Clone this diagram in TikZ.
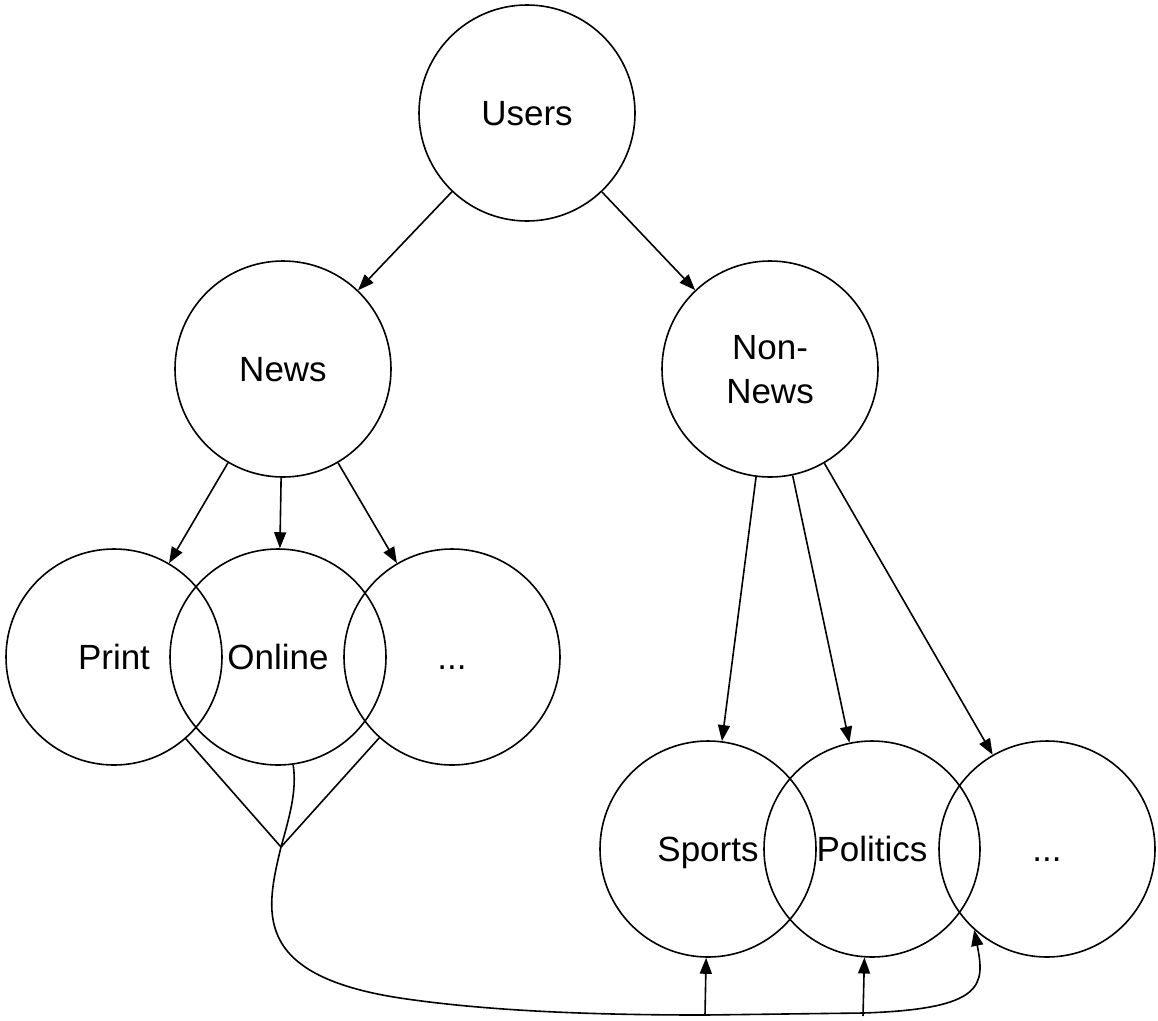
\documentclass[tikz,border=0pt]{standalone}
\usepackage{fontspec}
\setmainfont{Liberation Sans}
\usetikzlibrary{arrows.meta}
\newcommand{\stv}{\vphantom{A}}
\begin{document}
\begin{tikzpicture}[x=1pt,y=-1pt,
  circ/.style={draw,circle,line width=1.6pt,minimum size=216pt,inner sep=0pt,
    font=\fontsize{35}{44}\selectfont,align=center},
  conn/.style={line width=1.6pt},
  arr/.style={line width=1.6pt,-{Triangle[length=16pt,width=12pt]}}]
\useasboundingbox (0,0) rectangle (1158,1020);
\node[circ] (users) at (527,113) {\stv\smash{Users}};
\node[circ] (news) at (283,369) {\stv\smash{News}};
\node[circ] (nonnews) at (770,369) {\stv\smash{Non-}\\\smash{News}};
\node[circ] (print) at (114,657) {\stv\smash{Print}};
\node[circ] (online) at (278,657) {\stv\smash{Online}};
\node[circ] (dotsa) at (452,657) {\stv\smash{...}};
\node[circ] (sports) at (708,849) {\stv\smash{Sports}};
\node[circ] (politics) at (872,849) {\stv\smash{Politics}};
\node[circ] (dotsb) at (1047,849) {\stv\smash{...}};
\draw[arr] (users) -- (news);
\draw[arr] (users) -- (nonnews);
\draw[arr] (news) -- (print);
\draw[arr] (news) -- (online);
\draw[arr] (news) -- (dotsa);
\draw[arr] (nonnews) -- (sports);
\draw[arr] (nonnews) -- (politics);
\draw[arr] (nonnews) -- (dotsb);
\coordinate (j) at (281,847);
\coordinate (s1) at (705,1015);
\coordinate (p1) at (863,1016);
\draw[conn] (print) -- (j);
\draw[conn] (dotsa) -- (j);
\draw[conn] (online.-82) .. controls (297,790) and (290,815) .. (j);
\draw[arr] (j) .. controls (266,910) and (250,975) .. (400,998)
  .. controls (500,1013) and (620,1015) .. (705,1015)
  -- (863,1013) .. controls (985,1009) and (985,985) .. (dotsb.228);
\draw[arr] (s1) -- (sports.-91);
\draw[arr] (p1) -- (politics.-94);
\end{tikzpicture}
\end{document}
